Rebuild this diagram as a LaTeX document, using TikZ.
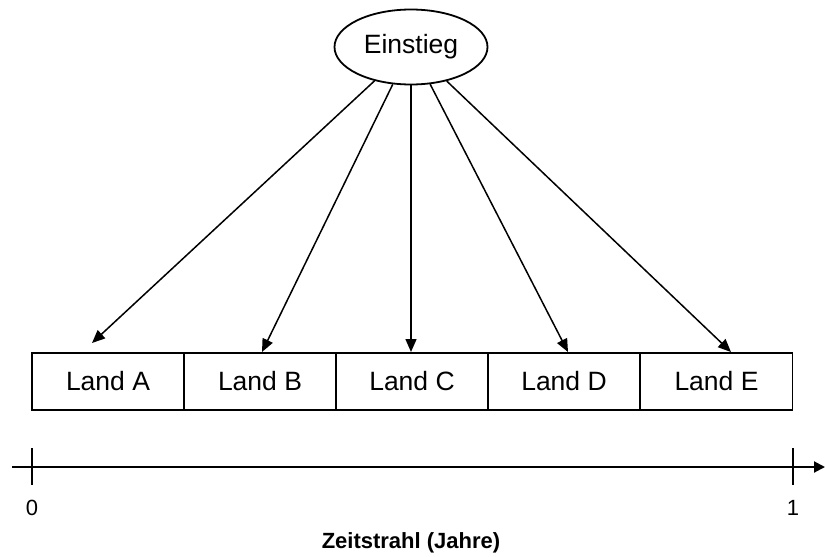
\documentclass[tikz,border=0pt]{standalone}
\usepackage{fontspec}
\setmainfont{Liberation Sans}
\usetikzlibrary{arrows.meta,shapes.geometric}

\tikzset{
  landbox/.style={draw, line width=1.6pt, rectangle, minimum width=152pt,
    minimum height=57pt, inner sep=0pt, font=\fontsize{26.5}{30}\selectfont},
  entry/.style={draw, line width=1.8pt, ellipse, minimum width=153pt,
    minimum height=75pt, inner sep=0pt, font=\fontsize{26.5}{30}\selectfont},
  link/.style={line width=1.5pt, -{Triangle[length=13pt,width=11pt]}},
  axis/.style={line width=2pt, -{Triangle[length=11pt,width=11pt]}},
  tick/.style={line width=1.5pt},
  ticklabel/.style={font=\fontsize{22}{26}\selectfont},
  axislabel/.style={font=\fontsize{22}{26}\selectfont\bfseries}
}

\begin{document}
\begin{tikzpicture}[x=1pt, y=-1pt]
  \useasboundingbox (0,0) rectangle (825,557);

  % top node
  \node[entry] (ein) at (411,47) {Einstieg};

  % row of countries
  \node[landbox] (A) at (108,381.5) {Land A};
  \node[landbox] (B) at (260,381.5) {Land B};
  \node[landbox] (C) at (412,381.5) {Land C};
  \node[landbox] (D) at (564,381.5) {Land D};
  \node[landbox] (E) at (716.5,381.5) {Land E};

  % arrow end points on the box tops
  \coordinate (tA) at (92,343);
  \coordinate (tB) at (262,352);
  \coordinate (tC) at (411,352);
  \coordinate (tD) at (568,352);
  \coordinate (tE) at (731,352);

  \draw[link] (ein) -- (tA);
  \draw[link] (ein) -- (tB);
  \draw[link] (ein.south) -- (tC);
  \draw[link] (ein) -- (tD);
  \draw[link] (ein) -- (tE);

  % time axis
  \coordinate (ax0) at (12,467);
  \coordinate (ax1) at (825,467);
  \draw[axis] (ax0) -- (ax1);

  \coordinate (k0t) at (32,448);
  \coordinate (k0b) at (32,485);
  \coordinate (k1t) at (793,448);
  \coordinate (k1b) at (793,485);
  \draw[tick] (k0t) -- (k0b);
  \draw[tick] (k1t) -- (k1b);

  \node[ticklabel] (l0) at (32,508) {0};
  \node[ticklabel] (l1) at (793,508) {1};
  \node[axislabel] (lab) at (411,543) {Zeitstrahl (Jahre)};
\end{tikzpicture}
\end{document}
